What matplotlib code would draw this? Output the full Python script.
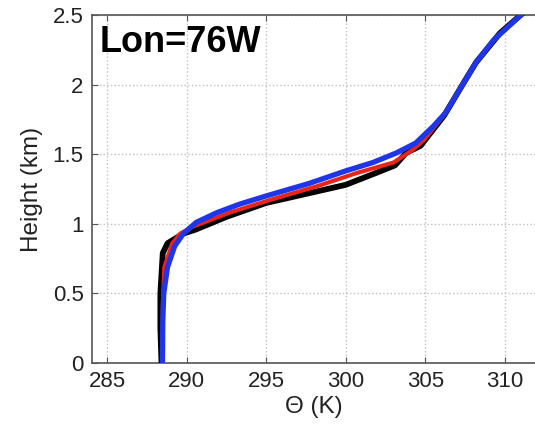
import matplotlib
matplotlib.use("Agg")
import matplotlib.pyplot as plt

plt.rcParams['font.family'] = ['Liberation Sans', 'DejaVu Sans']

# Potential temperature (K) and height (km) for three profiles
black_theta = [288.42, 288.35, 288.35, 288.5, 288.8, 289.8, 290.6, 292.5, 295.0, 297.7, 300.0, 301.9, 303.1, 303.8, 304.7, 306.2, 307.4, 308.2, 309.7, 311.2]
black_z     = [0.0,    0.25,   0.5,    0.79,  0.86,  0.93,  0.96,  1.05,  1.15,  1.22,  1.28,  1.365, 1.42,  1.51,  1.56,  1.78,  2.01,  2.16,  2.37,  2.52]

red_theta = [288.5, 288.5, 288.6, 289.1, 289.6, 290.4, 292.7, 295.2, 298.2, 300.7, 303.0, 304.2, 304.9, 306.1, 307.4, 308.2, 309.3, 311.0]
red_z     = [0.0,   0.4,   0.69,  0.86,  0.93,  0.98,  1.08,  1.17,  1.27,  1.365, 1.44,  1.53,  1.60,  1.77,  2.01,  2.16,  2.32,  2.5]

blue_theta = [288.48, 288.5, 288.56, 288.8, 289.25, 289.8, 290.6, 291.9, 293.3, 295.0, 297.7, 300.0, 301.7, 303.2, 304.4, 305.5, 306.3, 307.4, 308.2, 309.3, 311.2]
blue_z     = [0.0,    0.3,   0.50,   0.69,  0.84,   0.93,  1.01,  1.08,  1.14,  1.20,  1.29,  1.38,  1.44,  1.51,  1.58,  1.70,  1.80,  2.01,  2.16,  2.32,  2.52]

xticks = [285, 290, 295, 300, 305, 310]
yticks = [0, 0.5, 1, 1.5, 2, 2.5]
ytick_labels = ['0', '0.5', '1', '1.5', '2', '2.5']

fig = plt.figure(figsize=(5.35, 4.3), dpi=100)
ax = fig.add_axes([92/535, 67/430, 1 - 92/535, 348/430])

ax.plot(black_theta, black_z, color='black', lw=4.2, solid_capstyle='round', zorder=3)
ax.plot(red_theta, red_z, color='#e8251c', lw=3.0, solid_capstyle='round', zorder=4)
ax.plot(blue_theta, blue_z, color='#1f35e8', lw=3.8, solid_capstyle='round', zorder=5)

ax.set_xlim(284.05, 311.9)
ax.set_ylim(0, 2.5)
ax.set_xticks(xticks)
ax.set_yticks(yticks)
ax.set_yticklabels(ytick_labels)
ax.tick_params(direction='in', labelsize=16, length=4, color='#555555', pad=6,
               top=True, labelcolor='#222222')
ax.grid(True, linestyle=':', color='#c0c0c0', lw=1.0)
for s in ['left', 'bottom', 'top']:
    ax.spines[s].set_color('#555555')
    ax.spines[s].set_linewidth(1.2)
ax.spines['right'].set_visible(False)

ax.set_xlabel('Θ (K)', fontsize=17.5, labelpad=3, color='#222222')
ax.set_ylabel('Height (km)', fontsize=17.5, labelpad=7, color='#222222')

ax.text(0.018, 0.922, 'Lon=76W', transform=ax.transAxes, fontsize=26,
        fontweight='bold', ha='left', va='center', zorder=6)

fig.savefig('out.png', dpi=100)
